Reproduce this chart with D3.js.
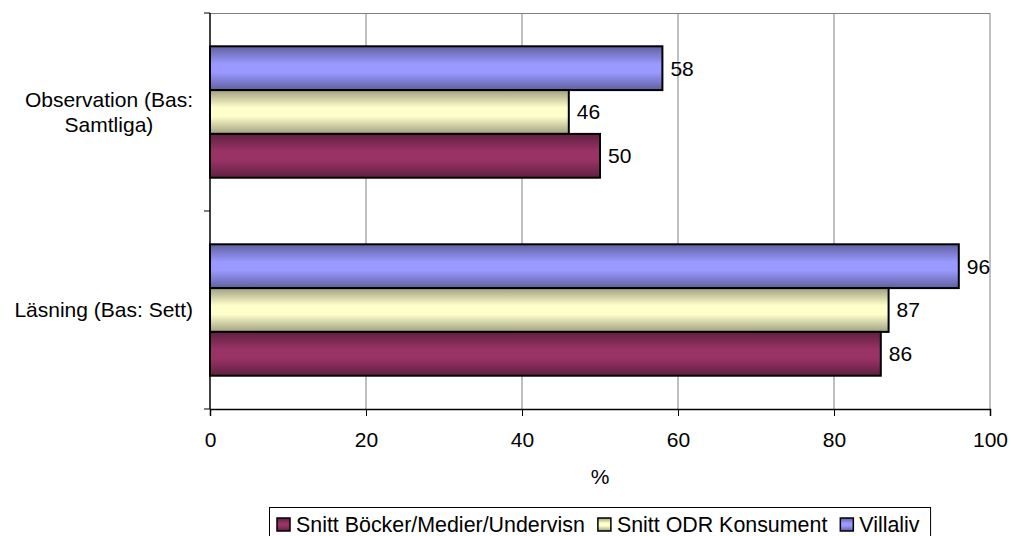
<!DOCTYPE html>
<html>
<head>
<meta charset="utf-8">
<script src="https://cdn.jsdelivr.net/npm/d3@7"></script>
<style>
  body { margin: 0; background: #fff; }
  svg { font-family: "Liberation Sans", Arial, sans-serif; }
</style>
</head>
<body>
<div id="chart"></div>
<script>
const categories = ["Observation (Bas: Samtliga)", "Läsning (Bas: Sett)"];
const categoryLines = [["Observation (Bas:", "Samtliga)"], ["Läsning (Bas: Sett)"]];
const series = ["Villaliv", "Snitt ODR Konsument", "Snitt Böcker/Medier/Undervisn"];
const villaliv = [58, 96];
const odr = [46, 87];
const bocker = [50, 86];
const xTicks = [0, 20, 40, 60, 80, 100];
const legendOrder = ["Snitt Böcker/Medier/Undervisn", "Snitt ODR Konsument", "Villaliv"];
const colors = { "Villaliv": "#9999ff", "Snitt ODR Konsument": "#ffffcc", "Snitt Böcker/Medier/Undervisn": "#993366" };

const values = { "Villaliv": villaliv, "Snitt ODR Konsument": odr, "Snitt Böcker/Medier/Undervisn": bocker };

const width = 1011, height = 536;
const margin = { top: 13, right: 21, bottom: 127, left: 210 };
const fontSize = 21;

const svg = d3.select("#chart").append("svg")
    .attr("width", width)
    .attr("height", height);

const defs = svg.append("defs");
// bars are shaded darker at top and bottom edges
series.forEach((s, i) => {
    const c = d3.color(colors[s]);
    const g = defs.append("linearGradient")
        .attr("id", "grad" + i)
        .attr("x1", 0).attr("y1", 0).attr("x2", 0).attr("y2", 1);
    g.append("stop").attr("offset", "0%").attr("stop-color", c.darker(1.3));
    g.append("stop").attr("offset", "40%").attr("stop-color", c);
    g.append("stop").attr("offset", "60%").attr("stop-color", c);
    g.append("stop").attr("offset", "100%").attr("stop-color", c.darker(1.3));
});

const x = d3.scaleLinear().domain([0, 100]).range([margin.left, width - margin.right]);
const y0 = d3.scaleBand().domain(categories).range([margin.top, height - margin.bottom]).paddingInner(0).paddingOuter(0);
const y1 = d3.scaleBand().domain(series).range([0, y0.bandwidth()]).paddingOuter(0.76);

// gridlines
svg.append("g")
    .selectAll("line")
    .data(xTicks.slice(1))
    .join("line")
    .attr("x1", d => x(d)).attr("x2", d => x(d))
    .attr("y1", margin.top).attr("y2", height - margin.bottom)
    .attr("stroke", "#808080")
    .attr("stroke-width", 1);

svg.append("line")
    .attr("x1", margin.left).attr("x2", width - margin.right)
    .attr("y1", margin.top + 0.5).attr("y2", margin.top + 0.5)
    .attr("stroke", "#808080");

// bars
const groups = svg.append("g")
    .selectAll("g")
    .data(categories)
    .join("g")
    .attr("transform", d => `translate(0,${y0(d)})`);

groups.selectAll("rect")
    .data((c, ci) => series.map((s, si) => ({ s, si, v: values[s][ci] })))
    .join("rect")
    .attr("x", x(0))
    .attr("y", d => y1(d.s))
    .attr("width", d => x(d.v) - x(0))
    .attr("height", y1.bandwidth())
    .attr("fill", d => `url(#grad${d.si})`)
    .attr("stroke", "#000")
    .attr("stroke-width", 2);

groups.selectAll("text")
    .data((c, ci) => series.map(s => ({ s, v: values[s][ci] })))
    .join("text")
    .attr("x", d => x(d.v) + 8)
    .attr("y", d => y1(d.s) + y1.bandwidth() / 2)
    .attr("dy", "0.35em")
    .attr("font-size", fontSize)
    .text(d => d.v);

// x axis
const xAxis = svg.append("g")
    .attr("transform", `translate(0,${height - margin.bottom})`)
    .call(d3.axisBottom(x).tickValues(xTicks).tickSize(7).tickPadding(16));
xAxis.select(".domain").attr("stroke", "#000").attr("stroke-width", 1.5);
xAxis.selectAll(".tick text").attr("font-size", fontSize).attr("font-family", "Liberation Sans, Arial, sans-serif");

// y axis
const yAxis = svg.append("g")
    .attr("transform", `translate(${margin.left},0)`);
yAxis.append("line")
    .attr("x1", 0).attr("x2", 0)
    .attr("y1", margin.top).attr("y2", height - margin.bottom)
    .attr("stroke", "#000").attr("stroke-width", 1.5);
const yTickPos = [margin.top, ...categories.map(c => y0(c) + y0.bandwidth())];
yAxis.selectAll(".ytick")
    .data(yTickPos)
    .join("line")
    .attr("x1", -6).attr("x2", 0)
    .attr("y1", d => d).attr("y2", d => d)
    .attr("stroke", "#000");

// category labels: block right-aligned, lines centred within block
categories.forEach((c, i) => {
    const lines = categoryLines[i];
    const cy = y0(c) + y0.bandwidth() / 2;
    const t = svg.append("text")
        .attr("text-anchor", "middle")
        .attr("font-size", fontSize);
    const spans = lines.map((l, li) => t.append("tspan")
        .attr("y", cy + (li - (lines.length - 1) / 2) * 25.5)
        .attr("dy", "0.35em")
        .text(l));
    const maxW = d3.max(spans, s => s.node().getComputedTextLength());
    spans.forEach(s => s.attr("x", 193 - maxW / 2));
});

// x axis title
svg.append("text")
    .attr("x", x(50))
    .attr("y", 484)
    .attr("text-anchor", "middle")
    .attr("font-size", fontSize)
    .text("%");

// legend
const legend = svg.append("g");
const legendBox = legend.append("rect")
    .attr("x", 269.5).attr("y", 507.5)
    .attr("height", 40)
    .attr("fill", "#fff")
    .attr("stroke", "#000");

let lx = 277;
legendOrder.forEach(s => {
    const si = series.indexOf(s);
    legend.append("rect")
        .attr("x", lx).attr("y", 518)
        .attr("width", 13).attr("height", 13)
        .attr("fill", `url(#grad${si})`)
        .attr("stroke", "#000")
        .attr("stroke-width", 1.5);
    const t = legend.append("text")
        .attr("x", lx + 19)
        .attr("y", 532)
        .attr("font-size", 21.4)
        .text(s);
    lx += 19 + t.node().getComputedTextLength() + 13;
});
legendBox.attr("width", lx - 2 - 269.5);
</script>
</body>
</html>
